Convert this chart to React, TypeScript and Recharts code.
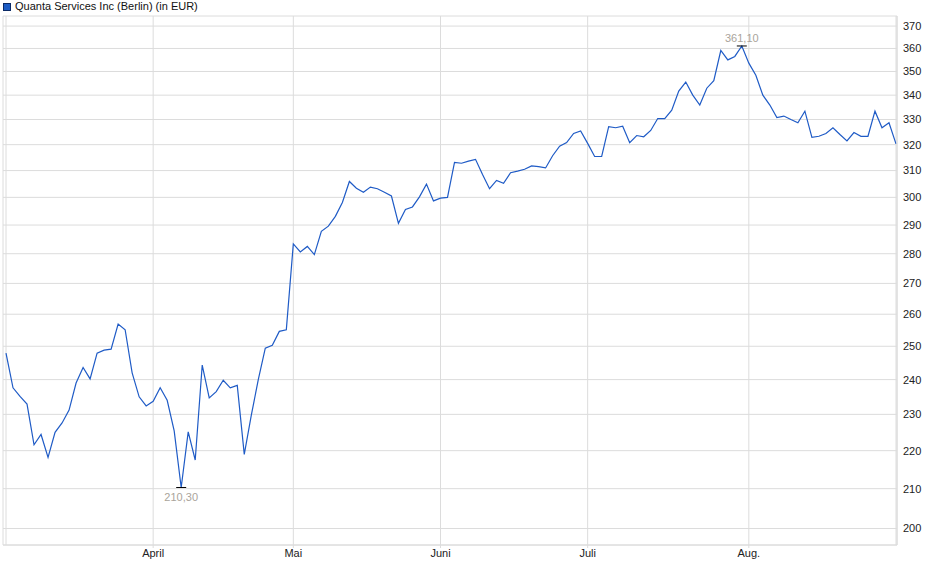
import {
  LineChart,
  Line,
  XAxis,
  YAxis,
  CartesianGrid,
  ReferenceLine,
  ReferenceDot,
} from "recharts";

// Schlusskurse (EUR), ein Wert pro Handelstag, Anfang März bis Ende August
const closes = [
  247.9, 237.6, 235.1, 232.9, 221.6, 224.4, 218.2, 225.0, 227.6, 231.2,
  239.0, 243.6, 240.2, 247.9, 248.8, 249.1, 256.9, 255.1, 242.0, 235.0,
  232.4, 233.7, 237.6, 234.0, 225.4, 210.3, 225.1, 217.5, 244.3, 234.7,
  236.5, 239.8, 237.6, 238.3, 219.0, 229.7, 240.0, 249.4, 250.3, 254.6,
  255.1, 283.4, 280.6, 282.5, 279.7, 287.8, 289.6, 293.1, 298.1, 305.9,
  303.4, 301.9, 303.8, 303.2, 301.9, 300.5, 290.6, 295.6, 296.5, 300.2,
  304.9, 298.7, 299.7, 300.0, 313.1, 312.8, 313.6, 314.3, 308.5, 303.2,
  306.3, 305.2, 309.2, 309.8, 310.5, 311.8, 311.5, 311.0, 315.7, 319.4,
  320.8, 324.4, 325.4, 320.5, 315.4, 315.4, 327.1, 326.7, 327.3, 320.8,
  323.6, 323.1, 325.6, 330.4, 330.4, 333.8, 341.7, 345.5, 340.0, 335.9,
  342.9, 346.1, 359.1, 355.0, 356.5, 361.1, 353.6, 348.4, 340.0, 335.9,
  330.8, 331.4, 330.0, 328.7, 333.4, 322.9, 323.3, 324.4, 326.7, 324.0,
  321.5, 324.8, 323.3, 323.3, 333.4, 326.7, 328.7, 320.3,
];

// Erster Handelstag jedes Monats (Index in closes)
const monthStarts = [21, 41, 62, 83, 106];
const monthLabels = ["April", "Mai", "Juni", "Juli", "Aug."];

const priceTicks = [
  200, 210, 220, 230, 240, 250, 260, 270, 280, 290, 300, 310, 320, 330, 340,
  350, 360, 370,
];

const FONT = '"Liberation Sans", Arial, sans-serif';
const GRID = "#dcdcdc";
const LINE = "#1f5bc6";

const data = closes.map((v, i) => ({ i, v }));

const maxIdx = closes.indexOf(Math.max(...closes));
const minIdx = closes.indexOf(Math.min(...closes));

const fmt = (v: number) => v.toFixed(2).replace(".", ",");

function Marker(props: any) {
  const { cx, cy, above, text } = props;
  return (
    <g>
      <line x1={cx - 5} x2={cx + 5} y1={cy} y2={cy} stroke="#000" strokeWidth={1} />
      <text
        x={cx}
        y={above ? cy - 4 : cy + 14}
        textAnchor="middle"
        fontSize={11}
        fontFamily={FONT}
        fill="#aaa49b"
      >
        {text}
      </text>
    </g>
  );
}

export default function App() {
  return (
    <div
      style={{
        position: "absolute",
        left: 0,
        top: 0,
        width: 940,
        height: 579,
        background: "#fff",
        fontFamily: FONT,
      }}
    >
      <div
        style={{
          position: "absolute",
          left: 3,
          top: 0,
          fontSize: 11,
          lineHeight: "13px",
          color: "#111",
          display: "flex",
          alignItems: "center",
        }}
      >
        <span
          style={{
            display: "inline-block",
            width: 6,
            height: 6,
            background: "#1d5cc4",
            border: "1px solid #0b2a66",
            marginRight: 4,
          }}
        />
        Quanta Services Inc (Berlin) (in EUR)
      </div>
      <LineChart
        width={940}
        height={579}
        data={data}
        margin={{ top: 16, right: 0, bottom: 0, left: 3 }}
      >
        <CartesianGrid stroke={GRID} strokeWidth={1} />
        <XAxis
          dataKey="i"
          type="number"
          domain={[0, closes.length - 1]}
          ticks={monthStarts}
          interval={0}
          padding={{ left: 3, right: 1 }}
          tickFormatter={(v: number) => monthLabels[monthStarts.indexOf(v)]}
          tick={{ fontSize: 11, fill: "#222", fontFamily: FONT }}
          tickLine={{ stroke: GRID }}
          tickSize={3}
          tickMargin={1}
          axisLine={{ stroke: GRID }}
          height={34}
        />
        <XAxis
          xAxisId="top"
          dataKey="i"
          type="number"
          orientation="top"
          height={0}
          tick={false}
          tickLine={false}
          axisLine={{ stroke: GRID }}
        />
        <YAxis
          orientation="right"
          scale="log"
          type="number"
          domain={[196, 374.6]}
          allowDataOverflow
          ticks={priceTicks}
          interval={0}
          tick={{ fontSize: 11, fill: "#222", fontFamily: FONT }}
          tickLine={false}
          tickSize={4}
          tickMargin={2}
          axisLine={{ stroke: GRID }}
          width={43}
        />
        <YAxis
          yAxisId="left"
          orientation="left"
          width={0}
          tick={false}
          tickLine={false}
          axisLine={{ stroke: GRID }}
        />
        <ReferenceLine x={0} stroke={GRID} />
        <ReferenceLine x={closes.length - 1} stroke={GRID} />
        <Line
          type="linear"
          dataKey="v"
          stroke={LINE}
          strokeWidth={1.2}
          dot={false}
          isAnimationActive={false}
        />
        <ReferenceDot
          x={maxIdx}
          y={closes[maxIdx]}
          shape={(p: any) => <Marker {...p} above text={fmt(closes[maxIdx])} />}
        />
        <ReferenceDot
          x={minIdx}
          y={closes[minIdx]}
          shape={(p: any) => <Marker {...p} above={false} text={fmt(closes[minIdx])} />}
        />
      </LineChart>
    </div>
  );
}
